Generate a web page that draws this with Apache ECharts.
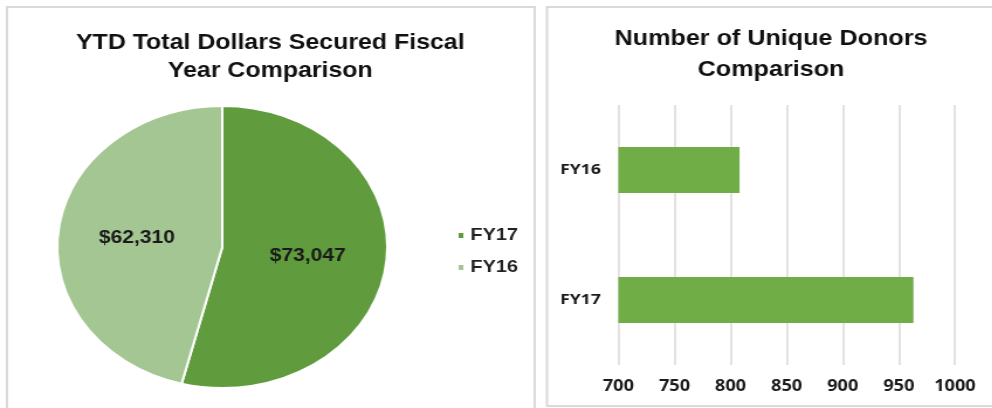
<!DOCTYPE html>
<html>
<head>
<meta charset="utf-8">
<script src="https://cdn.jsdelivr.net/npm/echarts@6/dist/echarts.min.js"></script>
<style>
html,body{margin:0;padding:0;background:#fff;overflow:hidden;}
#wrap{width:992px;height:408px;overflow:hidden;position:relative;}
#chart{width:848px;height:408px;transform:scaleX(1.17);transform-origin:0 0;}
</style>
</head>
<body>
<div id="wrap"><div id="chart"></div></div>
<script>
// Data
const pieTitle = 'YTD Total Dollars Secured Fiscal\nYear Comparison';
const pieCategories = ['FY17', 'FY16'];
const pieValues = [73047, 62310];
const barTitle = 'Number of Unique Donors\nComparison';
const barCategories = ['FY17', 'FY16'];
const barValues = [963, 808];
const xTicks = [700, 750, 800, 850, 900, 950, 1000];

const pieColors = ['#609c3d', '#a3c692'];
const chart = echarts.init(document.getElementById('chart'));
chart.setOption({
  animation: false,
  textStyle: { fontFamily: 'Liberation Sans, Arial, sans-serif' },
  graphic: [
    { type: 'rect', shape: { x: 6, y: 7, width: 451, height: 420 }, style: { fill: 'none', stroke: '#d9d9d9', lineWidth: 2 } },
    { type: 'rect', shape: { x: 467.5, y: 7, width: 400, height: 399 }, style: { fill: 'none', stroke: '#d9d9d9', lineWidth: 2 } }
  ],
  title: [
    { text: pieTitle, left: 231, top: 29, textAlign: 'center', padding: 0,
      textStyle: { fontFamily: 'Liberation Sans, Arial, sans-serif', fontSize: 21.3, fontWeight: 'bold', color: '#111', lineHeight: 28 } },
    { text: barTitle, left: 659, top: 24, textAlign: 'center', padding: 0,
      textStyle: { fontFamily: 'Liberation Sans, Arial, sans-serif', fontSize: 21.5, fontWeight: 'bold', color: '#111', lineHeight: 31 } }
  ],
  legend: {
    orient: 'vertical', left: 385, top: 222, itemWidth: 6, itemHeight: 7, itemGap: 15,
    icon: 'rect', data: pieCategories,
    textStyle: { fontFamily: 'Liberation Sans, Arial, sans-serif', fontSize: 17, fontWeight: 'bold', color: '#222', padding: [0, 0, 0, 0] }
  },
  grid: { left: 528.5, right: 31.8, top: 105, bottom: 43 },
  xAxis: {
    type: 'value', min: xTicks[0], max: xTicks[xTicks.length - 1], interval: 50,
    axisLine: { show: false }, axisTick: { show: false },
    splitLine: { lineStyle: { color: '#d9d9d9', width: 1.5 } },
    axisLabel: { margin: 14, formatter: v => String(v), fontFamily: 'Open Sans, sans-serif', fontSize: 15.5, fontWeight: 'bold', color: '#1a1a1a' }
  },
  yAxis: {
    type: 'category', data: barCategories,
    axisLine: { show: false }, axisTick: { show: false },
    axisLabel: { margin: 15, fontFamily: 'Open Sans, sans-serif', fontSize: 15, fontWeight: 'bold', color: '#1a1a1a' }
  },
  series: [
    {
      type: 'pie', center: [190, 247], radius: 141, startAngle: 90, clockwise: true,
      itemStyle: { borderColor: '#fff', borderWidth: 2 },
      label: { position: 'inside', formatter: p => '$' + p.value.toLocaleString('en-US'),
        fontFamily: 'Liberation Sans, Arial, sans-serif', fontSize: 18, fontWeight: 'bold', color: '#1a1a1a' },
      labelLine: { show: false },
      data: pieCategories.map((c, i) => ({ name: c, value: pieValues[i], itemStyle: { color: pieColors[i] } }))
    },
    {
      type: 'bar', data: barValues, barWidth: 46,
      itemStyle: { color: '#70ad47' }
    }
  ]
});
</script>
</body>
</html>
